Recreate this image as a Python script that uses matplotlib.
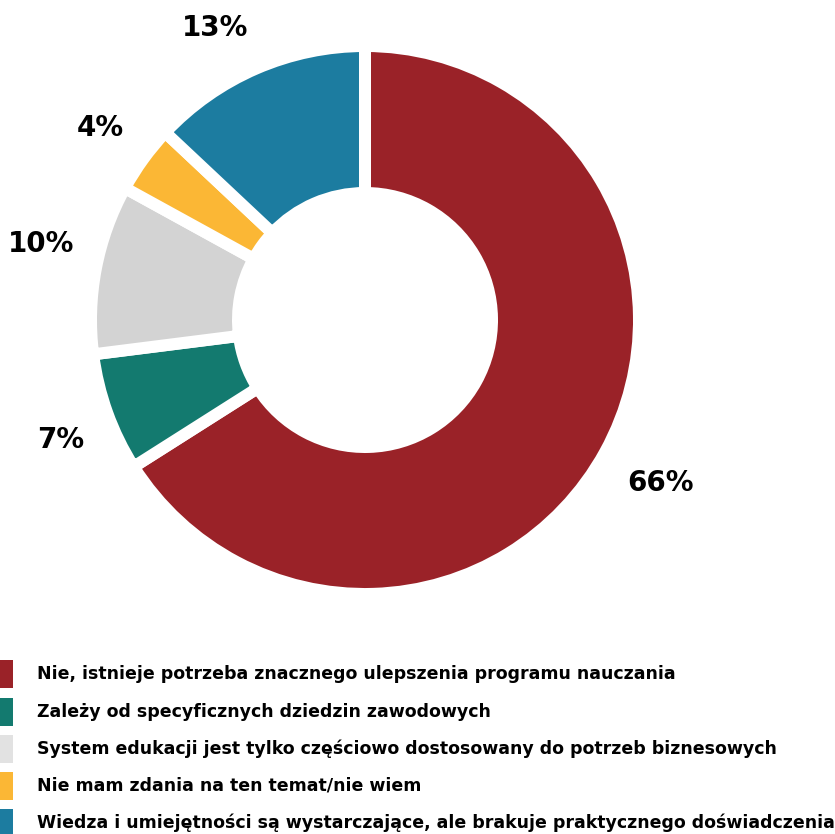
import matplotlib
matplotlib.use('Agg')
import matplotlib.pyplot as plt
from matplotlib.patches import Rectangle
import numpy as np

labels = [
    'Nie, istnieje potrzeba znacznego ulepszenia programu nauczania',
    'Zależy od specyficznych dziedzin zawodowych',
    'System edukacji jest tylko częściowo dostosowany do potrzeb biznesowych',
    'Nie mam zdania na ten temat/nie wiem',
    'Wiedza i umiejętności są wystarczające, ale brakuje praktycznego doświadczenia',
]
values = [66, 7, 10, 4, 13]
colors = ['#9A2228', '#137A6F', '#D3D3D3', '#FBB735', '#1C7CA0']
legend_colors = ['#9A2228', '#137A6F', '#E2E2E2', '#FBB735', '#1C7CA0']

W, H = 835, 834
fig = plt.figure(figsize=(W / 100, H / 100), dpi=100)

# donut axes: centre at (365, 320) px, outer radius 268 px
cx, cy, r = 365, 320, 268
ax = fig.add_axes([(cx - r) / W, (H - cy - r) / H, 2 * r / W, 2 * r / H])

gap = 12  # white gap between wedges, px
wedges, _ = ax.pie(values, colors=colors, startangle=90, counterclock=False,
                   radius=1 + gap / 2 / r,
                   wedgeprops=dict(width=(r + gap / 2 - 127) / r, edgecolor='white',
                                   linewidth=gap * 72 / 100))
ax.set_xlim(-1, 1)
ax.set_ylim(-1, 1)
ax.set_aspect('equal')
ax.axis('off')

# percentage labels outside the ring: (radius, angle shift in degrees)
label_pos = [(1.26, 0), (1.22, 1.8), (1.24, -2.4), (1.22, 0), (1.225, 3.8)]
for w, v, (lr, shift) in zip(wedges, values, label_pos):
    ang = np.deg2rad((w.theta1 + w.theta2) / 2 + shift)
    ax.text(lr * np.cos(ang), lr * np.sin(ang), f'{v}%', ha='center', va='center',
            fontsize=20, fontweight='bold', family='DejaVu Sans', clip_on=False)

# legend
row_y = [674, 712, 749, 786, 823]
for c, lab, y in zip(legend_colors, labels, row_y):
    fig.add_artist(Rectangle((0, (H - y - 14) / H), 13 / W, 28 / H,
                             transform=fig.transFigure, color=c, lw=0))
    fig.text(37 / W, (H - y) / H, lab, ha='left', va='center',
             fontsize=12.5, fontweight='bold', family='DejaVu Sans')

fig.savefig('out.png', dpi=100)
